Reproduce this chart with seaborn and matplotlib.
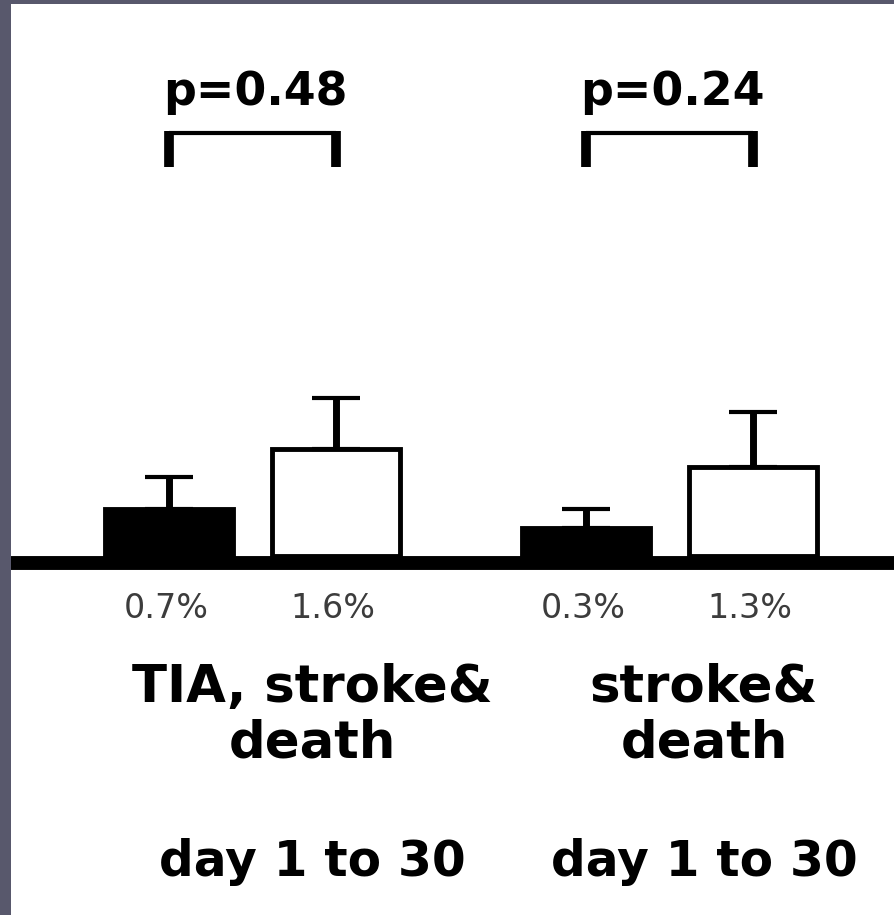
import numpy as np
import pandas as pd
import seaborn as sns
from matplotlib import pyplot as plt
from matplotlib.patches import Rectangle

# values
groups = ["TIA, stroke&\ndeath", "stroke&\ndeath"]
arms = ["treated", "control"]
rates = [0.7, 1.6, 0.42, 1.33]        # bar heights (%)
errs_up = [0.48, 0.76, 0.28, 0.82]    # upper error only
rate_labels = ["0.7%", "1.6%", "0.3%", "1.3%"]
p_values = ["p=0.48", "p=0.24"]
periods = ["day 1 to 30", "day 1 to 30"]

# layout (pixels of the 895x915 picture)
W, H = 895, 915
Y0_PX = 556            # row of y = 0
PX_PER_Y = 67.0
X0_PX = 252.5          # centre of first group
PX_PER_X = 417.0
BORDER = "#58586c"


def ydata(py):
    return (Y0_PX - py) / PX_PER_Y


def xdata(px):
    return (px - X0_PX) / PX_PER_X


sns.set_style("white")
plt.rcParams['font.family'] = ['DejaVu Sans']
plt.rcParams['text.color'] = 'black'

fig = plt.figure(figsize=(W / 100, H / 100), dpi=100, facecolor=BORDER)
fig.add_artist(Rectangle((11 / W, 0), 1, (H - 4) / H, transform=fig.transFigure,
                         facecolor="white", edgecolor="none", zorder=0))

ax_bottom_px = 563
ax = fig.add_axes([11 / W, (H - ax_bottom_px) / H, (W - 11) / W, (ax_bottom_px - 4) / H])
ax.patch.set_visible(False)

df = pd.DataFrame({
    "group": np.repeat(groups, 2),
    "arm": arms * 2,
    "rate": rates,
})

sns.barplot(data=df, x="group", y="rate", hue="arm", order=groups, hue_order=arms,
            palette={"treated": "black", "control": "white"}, saturation=1,
            edgecolor="black", linewidth=3.5, width=0.8, gap=0.23,
            errorbar=None, legend=False, ax=ax)

# bar centres, in df order
centers = {}
for container, arm in zip(ax.containers, arms):
    for bar, group in zip(container, groups):
        centers[(group, arm)] = bar.get_x() + bar.get_width() / 2
xs = [centers[(g, a)] for g, a in zip(df["group"], df["arm"])]

ax.errorbar(xs, rates, yerr=[np.zeros(len(rates)), errs_up], fmt="none",
            ecolor="black", elinewidth=5, capsize=17, capthick=3, zorder=3)

# percentage under each bar
for x, lab in zip(xs, rate_labels):
    ax.text(x - 3 / PX_PER_X, ydata(618), lab, ha="center", va="baseline",
            fontsize=24, color="#3c3c3c", clip_on=False)

# significance brackets
for i, p in enumerate(p_values):
    x0, x1 = xs[2 * i], xs[2 * i + 1]
    ax.plot([x0, x1], [ydata(132.5), ydata(132.5)], color="black", lw=3,
            solid_capstyle="butt", clip_on=False)
    ax.vlines([x0, x1], ydata(167), ydata(130.5), color="black", lw=7, clip_on=False)
    ax.text(x0 - 6 / PX_PER_X, ydata(105), p, ha="left", va="baseline",
            fontsize=33, fontweight="bold", color="black", clip_on=False)

# group labels below the axis
label_px = [312, 704]
for px, name, period in zip(label_px, groups, periods):
    for k, line in enumerate(name.split("\n")):
        ax.text(xdata(px), ydata(702 + 56 * k), line, ha="center", va="baseline",
                fontsize=37, fontweight="bold", color="black", clip_on=False)
    ax.text(xdata(px), ydata(876), period, ha="center", va="baseline",
            fontsize=35, fontweight="bold", color="black", clip_on=False)

ax.set_xlim(xdata(11), xdata(W))
ax.set_ylim(ydata(ax_bottom_px), ydata(4))
ax.set_xticks([])
ax.set_yticks([])
ax.set_xlabel("")
ax.set_ylabel("")
for side in ["top", "left", "right"]:
    ax.spines[side].set_visible(False)
ax.spines["bottom"].set_color("black")
ax.spines["bottom"].set_linewidth(10)
ax.spines["bottom"].set_capstyle("butt")

fig.savefig("out.png", dpi=100, facecolor=fig.get_facecolor())
